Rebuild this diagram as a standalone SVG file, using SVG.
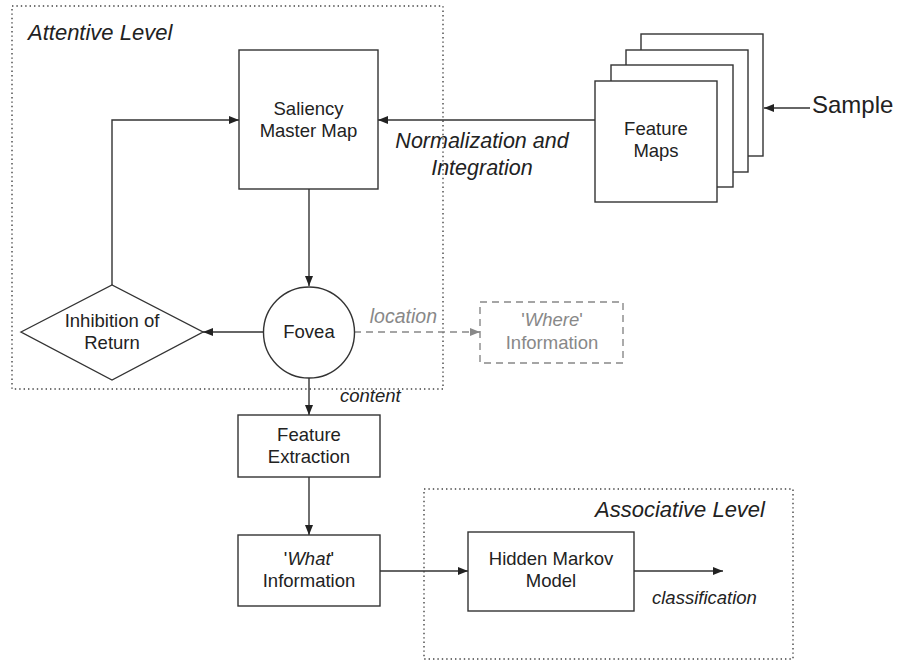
<svg xmlns="http://www.w3.org/2000/svg" width="899" height="660" viewBox="0 0 899 660">
<defs>
<marker id="ah" markerWidth="10" markerHeight="8" refX="10" refY="4" orient="auto" markerUnits="userSpaceOnUse"><path d="M0,0 L10,4 L0,8 Z" fill="#222"/></marker>
<marker id="ahg" markerWidth="10" markerHeight="8" refX="10" refY="4" orient="auto" markerUnits="userSpaceOnUse"><path d="M0,0 L10,4 L0,8 Z" fill="#888"/></marker>
<style>
text{font-family:"Liberation Sans",Arial,sans-serif;fill:#222;}
.lbl{font-size:18.5px;text-anchor:middle;}
.it{font-style:italic;}
.box{fill:#fff;stroke:#333;stroke-width:1.4;}
.lvl{fill:none;stroke:#444;stroke-width:1.4;stroke-dasharray:1.4,3;}
.con{fill:none;stroke:#333;stroke-width:1.4;}
.gray{fill:#888;}
</style>
</defs>
<rect width="899" height="660" fill="#fff"/>

<g id="attentive-level">
<rect class="lvl" x="12" y="6" width="431" height="383"/>
<text x="28" y="40" class="it" font-size="22">Attentive Level</text>
</g>
<g id="associative-level">
<rect class="lvl" x="424" y="489" width="369" height="170"/>
<text x="765" y="517" class="it" font-size="22" text-anchor="end">Associative Level</text>
</g>

<g id="connectors">
<line class="con" x1="595" y1="120" x2="378" y2="120" marker-end="url(#ah)"/>
<polyline class="con" points="112,285 112,120 239,120" marker-end="url(#ah)"/>
<line class="con" x1="309" y1="189" x2="309" y2="286" marker-end="url(#ah)"/>
<line class="con" x1="263" y1="332" x2="203" y2="332" marker-end="url(#ah)"/>
<line x1="354" y1="332" x2="480" y2="332" fill="none" stroke="#888" stroke-width="1.4" stroke-dasharray="7,5" marker-end="url(#ahg)"/>
<line class="con" x1="309" y1="378" x2="309" y2="415" marker-end="url(#ah)"/>
<line class="con" x1="309" y1="477" x2="309" y2="535" marker-end="url(#ah)"/>
<line class="con" x1="380" y1="571" x2="468" y2="571" marker-end="url(#ah)"/>
<line class="con" x1="634" y1="571" x2="723" y2="571" marker-end="url(#ah)"/>
<line class="con" x1="810" y1="108" x2="764" y2="108" marker-end="url(#ah)"/>
<text x="482" y="148" class="it" font-size="21.5" text-anchor="middle">Normalization and</text>
<text x="482" y="175" class="it" font-size="21.5" text-anchor="middle">Integration</text>
<text x="437" y="323" class="it gray" font-size="19.5" text-anchor="end">location</text>
<text x="340" y="402" class="it" font-size="18.5">content</text>
<text x="652" y="604" class="it" font-size="18.5">classification</text>
<text x="812" y="113" font-size="24">Sample</text>
</g>

<g id="saliency-master-map">
<rect class="box" x="239" y="50" width="139" height="139"/>
<text x="308.5" y="115" class="lbl">Saliency</text>
<text x="308.5" y="137" class="lbl">Master Map</text>
</g>

<g id="feature-maps">
<rect class="box" x="641" y="34" width="122" height="122"/>
<rect class="box" x="626" y="50" width="122" height="122"/>
<rect class="box" x="611" y="65" width="122" height="122"/>
<rect class="box" x="595" y="81" width="122" height="121"/>
<text x="656" y="135" class="lbl">Feature</text>
<text x="656" y="157" class="lbl">Maps</text>
</g>

<g id="inhibition-of-return">
<polygon class="box" points="21,332 112,285 203,332 112,380"/>
<text x="112" y="327" class="lbl">Inhibition of</text>
<text x="112" y="349" class="lbl">Return</text>
</g>

<g id="fovea">
<ellipse class="box" cx="309" cy="332.5" rx="45.5" ry="45.5"/>
<text x="309" y="338" class="lbl">Fovea</text>
</g>

<g id="where-information">
<rect x="480" y="302" width="143" height="61" fill="#fff" stroke="#888" stroke-width="1.4" stroke-dasharray="7,5"/>
<text x="552" y="326" class="lbl gray">'<tspan class="it gray">Where</tspan>'</text>
<text x="552" y="349" class="lbl gray">Information</text>
</g>

<g id="feature-extraction">
<rect class="box" x="238" y="415" width="142" height="62"/>
<text x="309" y="441" class="lbl">Feature</text>
<text x="309" y="463" class="lbl">Extraction</text>
</g>

<g id="what-information">
<rect class="box" x="238" y="535" width="142" height="71"/>
<text x="309" y="565" class="lbl">'<tspan class="it">What</tspan>'</text>
<text x="309" y="587" class="lbl">Information</text>
</g>

<g id="hidden-markov-model">
<rect class="box" x="468" y="532" width="166" height="79"/>
<text x="551" y="565" class="lbl">Hidden Markov</text>
<text x="551" y="587" class="lbl">Model</text>
</g>
</svg>
